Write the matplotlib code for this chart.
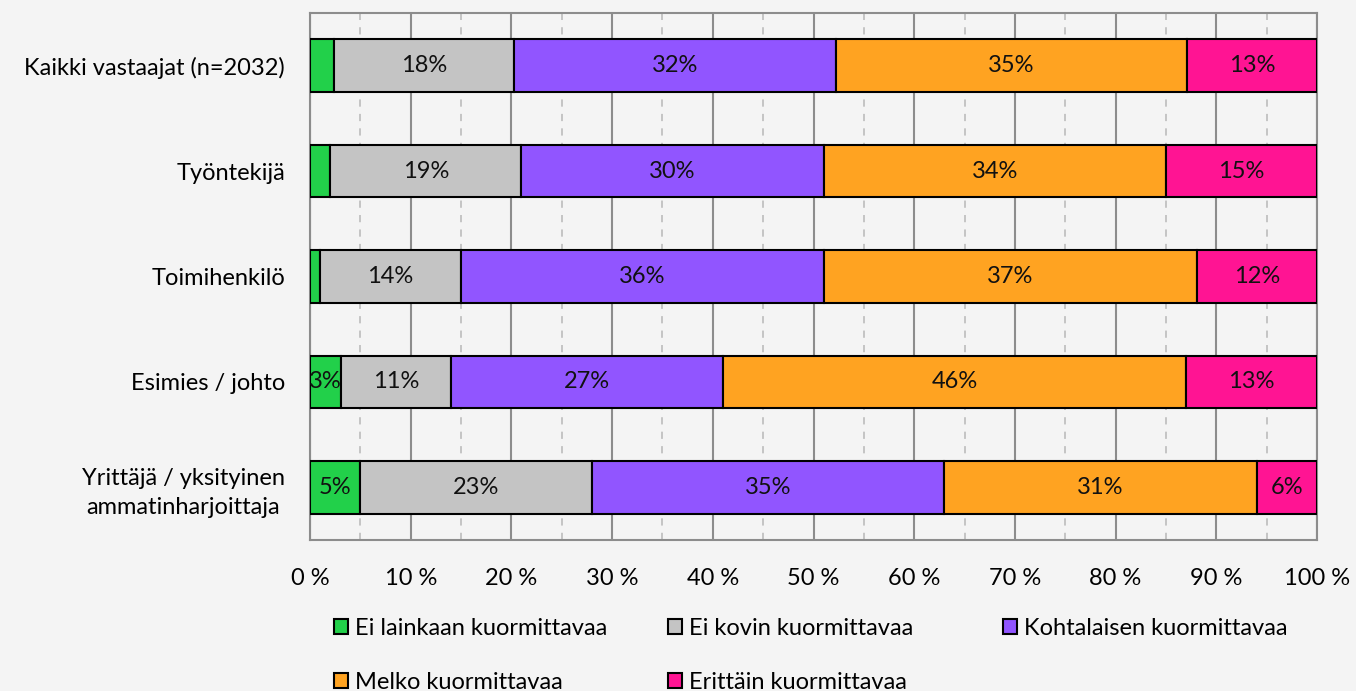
import matplotlib
matplotlib.use("Agg")
import matplotlib.pyplot as plt
from matplotlib.ticker import MultipleLocator, FuncFormatter
import numpy as np

categories = ["Kaikki vastaajat (n=2032)", "Työntekijä", "Toimihenkilö",
              "Esimies / johto", "Yrittäjä / yksityinen\nammatinharjoittaja"]
series_names = ["Ei lainkaan kuormittavaa", "Ei kovin kuormittavaa",
                "Kohtalaisen kuormittavaa", "Melko kuormittavaa", "Erittäin kuormittavaa"]
ei_lainkaan = [2.4, 2.0, 1.0, 3.1, 5.0]
ei_kovin = [17.9, 19.0, 14.0, 10.9, 23.0]
kohtalaisen = [31.9, 30.0, 36.0, 27.0, 35.0]
melko = [34.9, 34.0, 37.1, 46.0, 31.0]
erittain = [12.9, 15.0, 11.9, 13.0, 6.0]
label_threshold = 3
colors = ["#22D04A", "#C4C4C4", "#9155FF", "#FFA321", "#FF1493"]

series = [ei_lainkaan, ei_kovin, kohtalaisen, melko, erittain]

plt.rcParams['font.family'] = ['Lato', 'DejaVu Sans']
FS = 17
bg = "#F4F4F4"
W, H = 1356, 691
fig = plt.figure(figsize=(W / 100, H / 100), dpi=100, facecolor=bg)
ax = fig.add_axes([310 / W, 1 - 540 / H, (1317 - 310) / W, (540 - 13) / H], facecolor=bg)

y = np.arange(len(categories))
left = np.zeros(len(categories))
handles = []
for name, vals, c in zip(series_names, series, colors):
    vals = np.array(vals)
    bars = ax.barh(y, vals, left=left, height=0.5, color=c, edgecolor="black",
                   linewidth=1.5, label=name, zorder=3)
    handles.append(bars)
    for yi, l, v in zip(y, left, vals):
        if round(v) >= label_threshold:
            ax.text(l + v / 2, yi, f"{round(v):.0f}%", ha="center", va="center",
                    fontsize=FS, color="#111111", zorder=4)
    left += vals

ax.set_xlim(0, 100)
ax.set_ylim(4.5, -0.5)
ax.set_yticks(y)
ax.set_yticklabels(categories, fontsize=FS, multialignment="center", linespacing=1.45)
ax.xaxis.set_major_locator(MultipleLocator(10))
ax.xaxis.set_minor_locator(MultipleLocator(5))
ax.xaxis.set_major_formatter(FuncFormatter(lambda v, p: f"{v:.0f} %"))
ax.tick_params(axis="x", labelsize=FS, length=0, pad=20, which="both")
ax.tick_params(axis="y", length=0, pad=18)
ax.grid(axis="x", which="major", color="#8C8C8C", linewidth=1.5, zorder=1)
ax.grid(axis="x", which="minor", color="#C0C0C0", linewidth=1.3, linestyle=(0, (4, 4)), zorder=1)
for s in ax.spines.values():
    s.set_color("#8C8C8C")
    s.set_linewidth(1.5)

# legend: three columns with equal spacing, row-wise order
col_x = [334, 668, 1003]
col_items = [[0, 3], [1, 4], [2]]
for cx, items in zip(col_x, col_items):
    leg = fig.legend([handles[i] for i in items], [series_names[i] for i in items],
                     loc="upper left", bbox_to_anchor=(cx / W, 1 - 618 / H),
                     frameon=False, fontsize=FS, handlelength=0.6, handleheight=0.6,
                     handletextpad=0.3, labelspacing=1.38, borderpad=0, borderaxespad=0)
    for h in leg.legend_handles:
        h.set_linewidth(1.5)

fig.savefig("out.png", dpi=100, facecolor=bg)
